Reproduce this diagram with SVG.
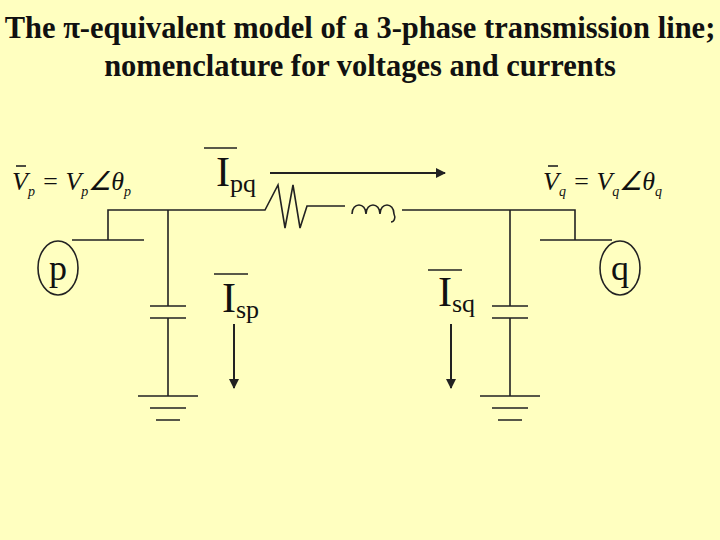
<svg xmlns="http://www.w3.org/2000/svg" width="720" height="540" viewBox="0 0 720 540">
<defs>
<marker id="ah" markerWidth="10" markerHeight="10" refX="9" refY="5" orient="auto" markerUnits="userSpaceOnUse"><path d="M0,0 L10,5 L0,10 z" fill="#222"/></marker>
<style>
.w{stroke:#222;stroke-width:1.6;fill:none}
.a{stroke:#222;stroke-width:2;fill:none;marker-end:url(#ah)}
.t{font-family:"Liberation Serif",serif;fill:#111}
.f{font-family:"Liberation Serif",serif;font-style:italic;fill:#111}
</style>
</defs>
<rect width="720" height="540" fill="#ffffc0"/>
<g id="title" class="t" font-weight="bold" font-size="30.5" text-anchor="middle">
<text x="360" y="38">The π-equivalent model of a 3-phase transmission line;</text>
<text x="360" y="76">nomenclature for voltages and currents</text>
</g>
<g id="connectors">
<path class="w" d="M108,240 V210 H265 L278,185 L285,228 L293,185 L300,228 L307,206 H345"/>
<path class="w" stroke-width="2.2" d="M352,214 c0,-12 14,-12 14,0 c0,-12 14,-12 14,0 c0,-12 14,-12 14,0 c2,4 0,8 -3,8"/>
<path class="w" d="M402,210 H575 V240"/>
<path class="w" d="M72,240 H144 M540,240 H612"/>
<path class="w" d="M168,210 V306 M150,306 H186 M150,318 H186 M168,318 V396 M138,396 H198 M150,408 H186 M156,420 H180"/>
<path class="w" d="M510,210 V306 M492,306 H528 M492,318 H528 M510,318 V396 M480,396 H540 M492,408 H528 M498,420 H522"/>
<path class="a" d="M270,173 H445"/>
<path class="a" d="M234,324 V388"/>
<path class="a" d="M451,324 V388"/>
</g>
<g id="p"><ellipse cx="58" cy="268" rx="20" ry="27" class="w"/><text class="t" x="58" y="280" font-size="36" text-anchor="middle">p</text></g>
<g id="q"><ellipse cx="620" cy="268" rx="20" ry="27" class="w"/><text class="t" x="620" y="280" font-size="36" text-anchor="middle">q</text></g>
<g id="Vp"><text class="f" x="12" y="190" font-size="26">V<tspan font-size="14" dy="6">p</tspan><tspan font-size="26" dy="-6"> = V</tspan><tspan font-size="14" dy="6">p</tspan><tspan font-size="26" dy="-6">∠θ</tspan><tspan font-size="14" dy="6">p</tspan></text><path class="w" d="M16,166 H26"/></g>
<g id="Vq"><text class="f" x="543" y="190" font-size="26">V<tspan font-size="14" dy="6">q</tspan><tspan font-size="26" dy="-6"> = V</tspan><tspan font-size="14" dy="6">q</tspan><tspan font-size="26" dy="-6">∠θ</tspan><tspan font-size="14" dy="6">q</tspan></text><path class="w" d="M548,166 H558"/></g>
<g id="Ipq"><path class="w" d="M204,148 H237"/><text class="t" x="216" y="186" font-size="42">I<tspan font-size="26" dy="6">pq</tspan></text></g>
<g id="Isp"><path class="w" d="M214,274 H248"/><text class="t" x="222" y="312" font-size="42">I<tspan font-size="26" dy="6">sp</tspan></text></g>
<g id="Isq"><path class="w" d="M428,270 H462"/><text class="t" x="438" y="306" font-size="42">I<tspan font-size="26" dy="6">sq</tspan></text></g>
</svg>
